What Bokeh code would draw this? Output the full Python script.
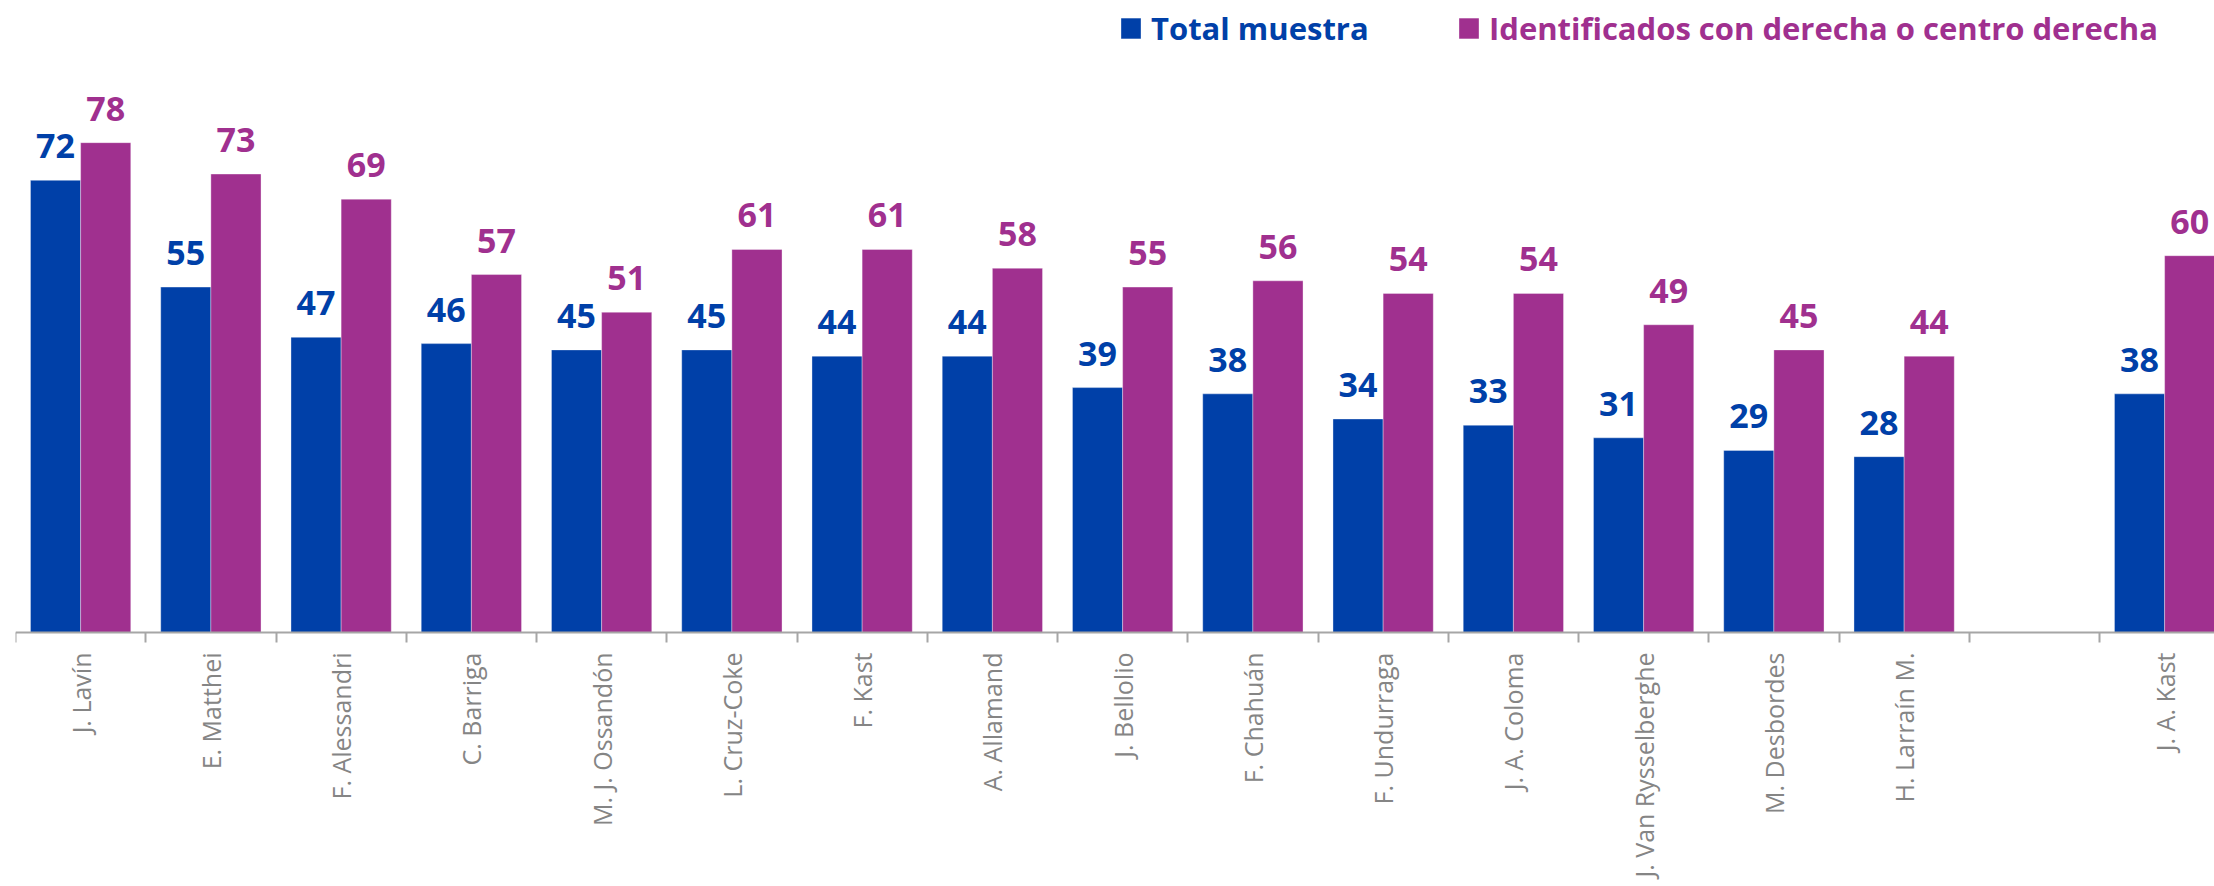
import math
from bokeh.plotting import figure
from bokeh.models import (Range1d, FixedTicker, LinearAxis, ColumnDataSource,
                          LabelSet, Legend, LegendItem)
from bokeh.core.properties import value
from bokeh.embed import file_html
from bokeh.resources import INLINE

# ---------------- data ----------------
candidates = ["J. Lavín", "E. Matthei", "F. Alessandri", "C. Barriga", "M. J. Ossandón",
              "L. Cruz-Coke", "F. Kast", "A. Allamand", "J. Bellolio", "F. Chahuán",
              "F. Undurraga", "J. A. Coloma", "J. Van Rysselberghe", "M. Desbordes",
              "H. Larraín M.", "", "J. A. Kast"]
total_muestra = [72, 55, 47, 46, 45, 45, 44, 44, 39, 38, 34, 33, 31, 29, 28, None, 38]
derecha = [78, 73, 69, 57, 51, 61, 61, 58, 55, 56, 54, 54, 49, 45, 44, None, 60]
series_names = ["Total muestra", "Identificados con derecha o centro derecha"]

BLUE = "#0040A8"
MAG = "#A0308F"
GRAY = "#858585"

W, H = 2214, 886
PX_PER_UNIT = 6.28
ZERO_Y = 632
BAR_W = 0.385
n = len(candidates)
idx = [i for i, v in enumerate(total_muestra) if v is not None]

src_t = ColumnDataSource(dict(
    x=[i + 0.5 - BAR_W / 2 for i in idx],
    top=[total_muestra[i] for i in idx],
    lbl=[str(total_muestra[i]) for i in idx]))
src_d = ColumnDataSource(dict(
    x=[i + 0.5 + BAR_W / 2 for i in idx],
    top=[derecha[i] for i in idx],
    lbl=[str(derecha[i]) for i in idx]))
src_names = ColumnDataSource(dict(
    x=[i + 0.5 for i in range(n)],
    y=[0] * n,
    name=candidates))

p = figure(width=W, height=H,
           x_range=Range1d(0, (W - 15) / 130.25),
           y_range=Range1d(-(H - ZERO_Y) / PX_PER_UNIT, ZERO_Y / PX_PER_UNIT),
           output_backend="svg", toolbar_location=None,
           x_axis_type=None, y_axis_type=None,
           min_border_left=15, min_border_right=0, min_border_top=0,
           min_border_bottom=0)
p.outline_line_color = None
p.xgrid.visible = False
p.ygrid.visible = False

r1 = p.vbar(x="x", top="top", width=BAR_W, source=src_t, fill_color=BLUE,
            line_color="white", line_alpha=0.35, line_width=1)
r2 = p.vbar(x="x", top="top", width=BAR_W, source=src_d, fill_color=MAG,
            line_color="white", line_alpha=0.35, line_width=1)

ax = LinearAxis(ticker=FixedTicker(ticks=[], minor_ticks=list(range(n + 1))),
                fixed_location=0)
ax.axis_line_color = "#A6A6A6"
ax.axis_line_width = 2
ax.major_tick_line_color = None
ax.major_tick_out = 0
ax.major_tick_in = 0
ax.major_label_standoff = 0
ax.minor_tick_line_color = "#A6A6A6"
ax.minor_tick_line_width = 2
ax.minor_tick_out = 10
ax.minor_tick_in = 0
ax.major_label_text_font_size = "0px"
p.add_layout(ax, "below")

p.text(x="x", y="y", text="name", source=src_names, angle=math.pi / 2,
       text_align="right", text_baseline="middle", y_offset=20,
       text_color=GRAY, text_font=value("Open Sans"), text_font_size="25px")

for src, col in ((src_t, BLUE), (src_d, MAG)):
    lab = LabelSet(x="x", y="top", text="lbl", source=src, text_align="center",
                   text_baseline="alphabetic", y_offset=22, text_color=col,
                   text_font=value("Open Sans"), text_font_style="bold",
                   text_font_size="34px")
    p.add_layout(lab)

for r, name, col, lx in ((r1, series_names[0], BLUE, 1103),
                         (r2, series_names[1], MAG, 1441)):
    leg = Legend(items=[LegendItem(label=name, renderers=[r])], location=(lx, 837),
                 orientation="horizontal", glyph_width=25, glyph_height=26,
                 label_standoff=8, padding=0, margin=0, border_line_color=None,
                 background_fill_alpha=0, label_text_color=col,
                 label_text_font="Open Sans", label_text_font_style="bold",
                 label_text_font_size="31px")
    p.add_layout(leg)

open("out.html", "w").write(file_html(p, INLINE))
